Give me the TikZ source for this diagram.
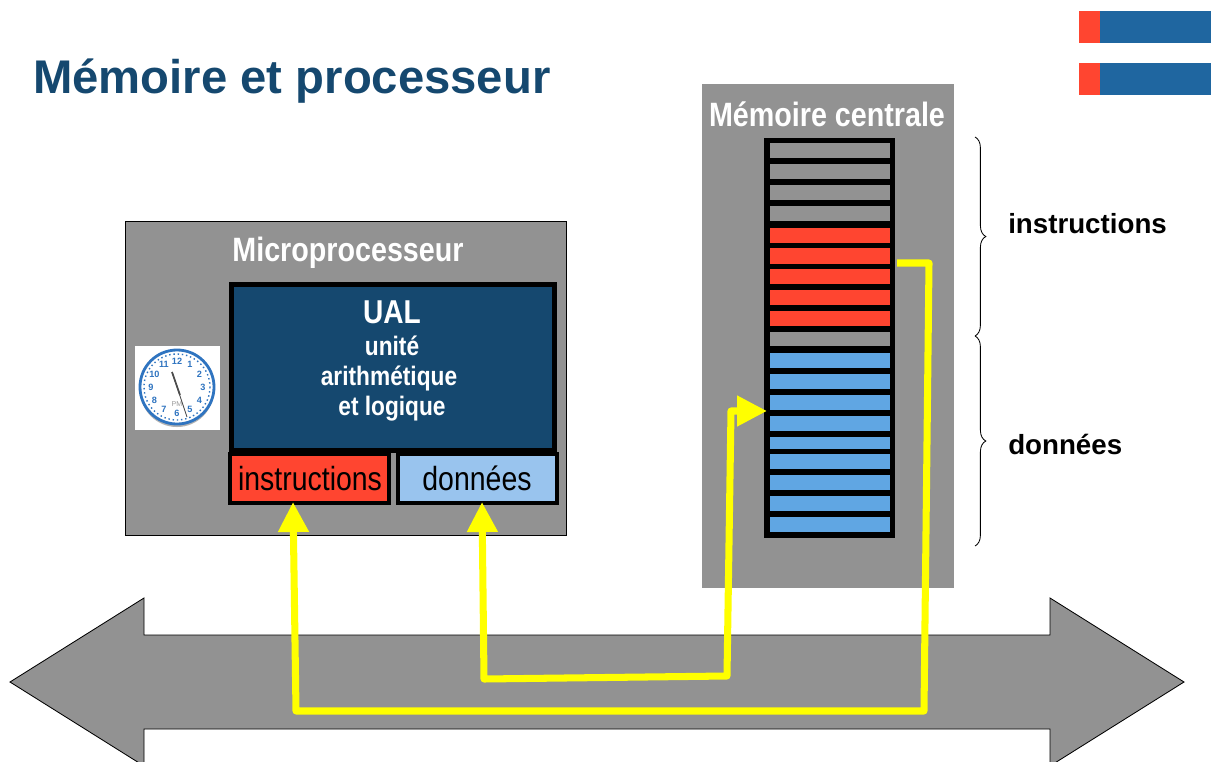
\documentclass[tikz,border=0pt]{standalone}
\usepackage{xcolor}
\usepackage{fontspec}
\setmainfont{Liberation Sans}
\newfontfamily\narrowfont[FakeStretch=0.85]{Liberation Sans}
\usetikzlibrary{arrows.meta,decorations.pathreplacing}
\definecolor{panel}{HTML}{929292}
\definecolor{navy}{HTML}{15486F}
\definecolor{corner}{HTML}{1F66A0}
\definecolor{redbox}{HTML}{FF4530}
\definecolor{bluebox}{HTML}{99C4EE}
\definecolor{bluecell}{HTML}{60A6E3}
\definecolor{wire}{HTML}{FFFF00}
\definecolor{clockblue}{HTML}{2F74C0}
\tikzset{
  box/.style 2 args={rectangle, inner sep=0pt, minimum width=#1*0.025cm, minimum height=#2*0.025cm},
  frame/.style={draw=black, line width=3pt},
  wirepath/.style={draw=wire, line width=5pt, line join=round},
  wirearrow/.style={wirepath, -{Triangle[length=0.75cm,width=0.73cm]}},
  heavy/.style={text=white, font=\narrowfont\bfseries\fontsize{#1}{#1}\selectfont, inner sep=0pt},
  side/.style={text=black, font=\bfseries\fontsize{19.7}{22}\selectfont, inner sep=0pt, anchor=west},
  plain/.style={text=black, font=\narrowfont\fontsize{23.8}{28}\selectfont, inner sep=0pt},
  clocknum/.style={text=clockblue, font=\bfseries\fontsize{6.5}{7}\selectfont, inner sep=0pt},
  brace/.style={draw=black, line width=0.6pt, decorate, decoration={brace, amplitude=0.27cm}},
}

\begin{document}
\begin{tikzpicture}[x=0.025cm,y=-0.025cm]
  \useasboundingbox (0,0) rectangle (1211,762);
  \clip (0,0) rectangle (1211,762);

  \node[box={21}{32}, fill=redbox] (cornerredA) at (1089.5,27) {};
  \node[box={111}{32}, fill=corner] (cornerblueA) at (1155.5,27) {};
  \node[box={21}{32}, fill=redbox] (cornerredB) at (1089.5,79) {};
  \node[box={111}{32}, fill=corner] (cornerblueB) at (1155.5,79) {};
  \node[text=navy, font=\bfseries\fontsize{33.6}{36}\selectfont, inner sep=0pt, anchor=west] (title) at (33,81) {Mémoire et processeur};

  \draw[fill=panel, draw=black, line width=0.6pt] (10,682) -- (144,598) -- (144,635) -- (1050,635) -- (1050,598) -- (1184,682) -- (1050,766) -- (1050,729) -- (144,729) -- (144,766) -- cycle;

  \node[box={441}{314}, fill=panel, draw=black, line width=0.6pt] (cpu) at (345.5,378) {};
  \node[heavy=24] (cpulabel) at (348,253) {Microprocesseur};
  \node[box={159}{49}, frame, fill=redbox] (instr) at (309.5,478.5) {};
  \node[box={159}{49}, frame, fill=bluebox] (data) at (477.5,478.5) {};
  \node[plain] (instrlabel) at (310,478.5) {instructions};
  \node[plain] (datalabel) at (477,478.5) {données};
  \node[box={323}{166}, draw=black, line width=3.6pt, fill=navy] (ual) at (393,367.5) {};
  \node[heavy=23.5] (uallabel) at (392,312) {UAL};
  \node[heavy=19] (ualA) at (392,346) {unité};
  \node[heavy=19] (ualB) at (389,378) {arithmétique};
  \node[heavy=19] (ualC) at (392,409) {et logique};

  \node[box={85}{84}, fill=white] (clockbox) at (177.5,388) {};
  \node[circle, inner sep=0pt, minimum size=1.85cm, fill=black!30] (clockshadow) at (177,390) {};
  \node[circle, inner sep=0pt, minimum size=1.85cm, fill=white, draw=clockblue, line width=2pt] (clockface) at (177,387) {};
  \draw[clockblue, line width=1pt, dotted] (clockface.center) circle (33);
  \foreach \h in {1,...,12}
    \node[clocknum] (hour\h) at ({177+26*sin(30*\h)},{387-26*cos(30*\h)}) {\h};
  \node[text=black!40, font=\fontsize{5}{6}\selectfont, inner sep=0pt] (clockpm) at (177,404) {PM};
  \coordinate (handA) at (172,372);
  \coordinate (handB) at (187,417);
  \coordinate (handC) at (180,395);
  \draw[black!70, line width=0.6pt] (handA) -- (handB);
  \draw[black!70, line width=1.2pt] (handA) -- (handC);

  \node[box={252}{504}, fill=panel] (mem) at (828,336) {};
  \node[heavy=24] (memlabel) at (827,114) {Mémoire centrale};
  \node[box={131}{399.5}, fill=black] (stack) at (829.5,337.75) {};
  \foreach \yc/\hh/\col [count=\i] in {150.75/15/panel,171.5/15/panel,192.5/15/panel,213.75/15/panel,235.25/15.5/redbox,
    255.75/15.5/redbox,276.5/15/redbox,297.5/15/redbox,318.5/15/redbox,339/14/panel,
    360.5/15/bluecell,381.5/15/bluecell,402.5/15/bluecell,423.5/15/bluecell,442.75/11.5/bluecell,
    461.5/15/bluecell,482.5/15/bluecell,503.5/15/bluecell,524.5/15/bluecell}
    \node[box={120.5}{\hh}, fill=\col] (cell\i) at (829.75,\yc) {};

  \coordinate (braceA) at (975,137);
  \coordinate (braceB) at (975,336);
  \coordinate (braceC) at (975,546);
  \draw[brace] (braceA) -- (braceB);
  \draw[brace] (braceB) -- (braceC);
  \node[side] (sideinstr) at (1008,224) {instructions};
  \node[side] (sidedata) at (1008,444) {données};

  \coordinate (instrout) at (897,263);
  \coordinate (instrup) at (929,263);
  \coordinate (instrdown) at (924,711);
  \coordinate (instrleft) at (296,711);
  \coordinate (instrin) at (293,502);
  \draw[wirearrow] (instrout) -- (instrup) -- (instrdown) -- (instrleft) -- (instrin);
  \coordinate (datadown) at (484,679);
  \coordinate (dataright) at (727,676);
  \coordinate (dataup) at (731,411);
  \coordinate (memin) at (767,411);
  \coordinate (datain) at (482,502);
  \draw[wirearrow, {Triangle[length=0.75cm,width=0.73cm]}-{Triangle[length=0.75cm,width=0.73cm]}] (datain) -- (datadown) -- (dataright) -- (dataup) -- (memin);
\end{tikzpicture}
\end{document}
